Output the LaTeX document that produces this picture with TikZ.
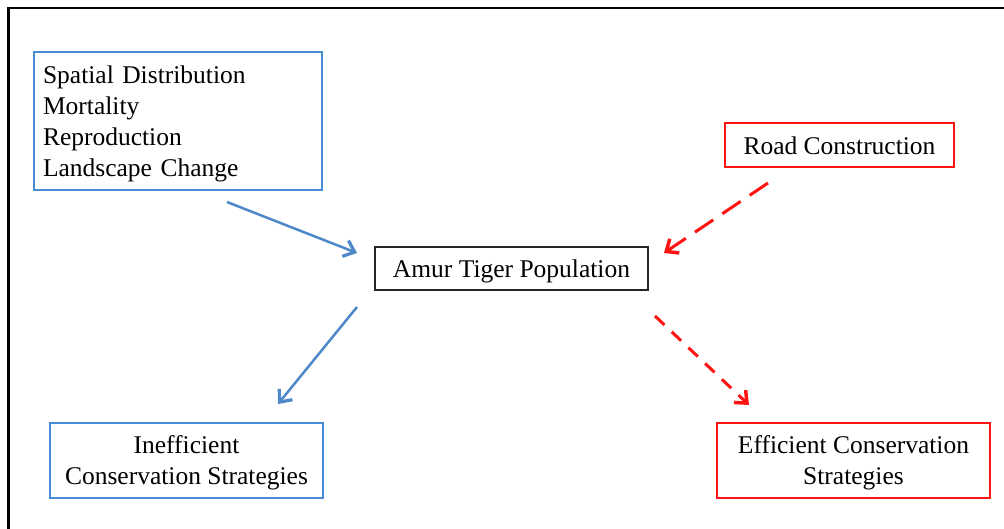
\documentclass[tikz,border=0pt]{standalone}
\usepackage{fontspec}
\setmainfont{Liberation Serif}
\usetikzlibrary{arrows.meta}
\definecolor{boxblue}{RGB}{70,140,212}
\definecolor{arrblue}{RGB}{78,136,202}
\definecolor{myred}{RGB}{255,20,20}
\newcommand{\lowered}[2]{\raisebox{-#1}[\height][\depth]{#2}}
\begin{document}
\begin{tikzpicture}[x=1pt,y=-1pt,
  lbl/.style={font=\fontsize{25.5}{31}\selectfont, inner sep=0pt, rectangle},
  oneline/.style={text height=22pt, text depth=3pt},
  bluebox/.style={lbl, draw=boxblue, line width=1.5pt},
  redbox/.style={lbl, draw=myred, line width=1.5pt},
  blackbox/.style={lbl, draw=black!85, line width=1.6pt},
  bluearrow/.style={draw=arrblue, line width=2.5pt, -{Straight Barb[length=10pt,width=17pt,line width=3.2pt]}},
  redarrow/.style={draw=myred, line width=3pt, -{Straight Barb[length=10pt,width=17pt,line width=3.5pt]}}
]
\useasboundingbox (0,0) rectangle (1004,529);
\fill[white] (0,0) rectangle (1004,529);
% frame
\draw[line width=2.6pt] (8.7,529) -- (8.7,8) -- (1004,8);

\node[bluebox, minimum width=288pt, minimum height=138pt, text width=270pt, align=left] (factors) at (178,121)
  {\lowered{3pt}{\begin{tabular}{@{}l@{}}Spatial Distribution\\Mortality\\Reproduction\\Landscape Change\end{tabular}}};
\node[redbox, oneline, minimum width=229pt, minimum height=44pt] (road) at (839.5,145) {Road Construction};
\node[blackbox, oneline, minimum width=273pt, minimum height=43pt] (amur) at (511.5,268.5) {Amur Tiger Population};
\node[bluebox, minimum width=273pt, minimum height=75pt] (ineff) at (186.5,460.5)
  {\lowered{2pt}{\begin{tabular}{@{}c@{}}Inefficient\\Conservation Strategies\end{tabular}}};
\node[redbox, minimum width=273pt, minimum height=75pt] (eff) at (853.5,460.5)
  {\lowered{2pt}{\begin{tabular}{@{}c@{}}Efficient Conservation\\Strategies\end{tabular}}};

\coordinate (b1s) at (227,202);
\coordinate (b1e) at (357,253);
\coordinate (b2s) at (357,307);
\coordinate (b2e) at (278,404);
\coordinate (r1s) at (768,183);
\coordinate (r1e) at (664,253);
\coordinate (r2s) at (655,316);
\coordinate (r2e) at (749,405);

\draw[bluearrow] (b1s) -- (b1e);
\draw[bluearrow] (b2s) -- (b2e);
\draw[redarrow, dash pattern=on 22pt off 11pt] (r1s) -- (r1e);
\draw[redarrow, dash pattern=on 13pt off 10pt] (r2s) -- (r2e);
\end{tikzpicture}
\end{document}
